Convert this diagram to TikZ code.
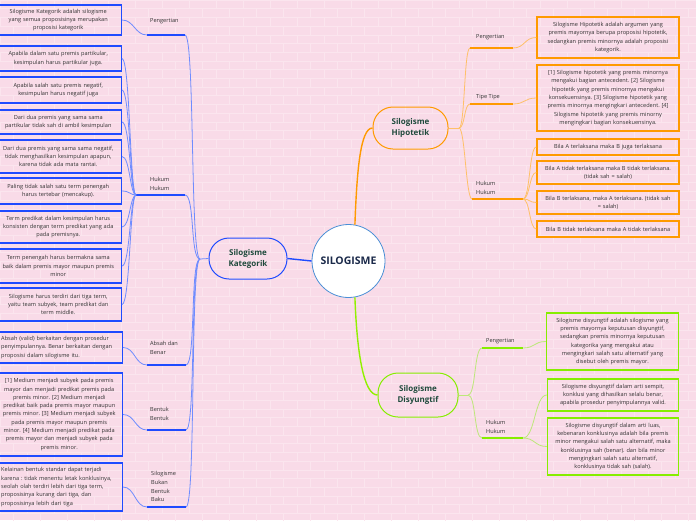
\documentclass[tikz,border=0pt]{standalone}
\usepackage{fontspec}
\setmainfont{Open Sans}
\frenchspacing
\definecolor{bg}{HTML}{F9DBE8}
\definecolor{brick}{HTML}{FBE5EE}
\definecolor{kblue}{HTML}{1F4BFF}
\definecolor{kblueL}{HTML}{6F8CFF}
\definecolor{horange}{HTML}{FF9A00}
\definecolor{horangeL}{HTML}{FFC068}
\definecolor{dgreen}{HTML}{86EE00}
\definecolor{dgreenL}{HTML}{BDE87A}
\definecolor{txt}{HTML}{333333}
\definecolor{ttl}{HTML}{1F4A3C}
\definecolor{navy}{HTML}{1B2A4A}
\definecolor{cblue}{HTML}{4A8FD6}
\begin{document}
\begin{tikzpicture}[x=1pt,y=-1pt,
  txtf/.style={font=\fontsize{5.6}{8.3}\selectfont, text=txt},
  lbox/.style={draw=kblue, line width=1.5pt, txtf, text width=120pt, align=center, inner xsep=3pt, inner ysep=0pt, anchor=east},
  obox/.style={draw=horange, line width=1.5pt, txtf, text width=136pt, align=center, inner xsep=3pt, inner ysep=0pt},
  gbox/.style={draw=dgreen, line width=1.5pt, txtf, text width=126pt, align=center, inner xsep=3pt, inner ysep=0pt},
  lab/.style={font=\fontsize{5.6}{8.8}\selectfont, text=txt, anchor=west, align=left, inner sep=0pt},
  mainnode/.style={rectangle, rounded corners=20pt, line width=1pt, align=center, text=ttl, font=\bfseries\fontsize{8}{11}\selectfont},
  kthin/.style={draw=kblueL, line width=0.8pt},
  kline/.style={draw=kblue, line width=1.6pt},
  othin/.style={draw=horangeL, line width=0.8pt},
  oline/.style={draw=horange, line width=1.6pt},
  gthin/.style={draw=dgreenL, line width=0.8pt},
  gline/.style={draw=dgreen, line width=1.6pt}]
\useasboundingbox (0,0) rectangle (696,520);
\clip (0,0) rectangle (696,520);
\fill[bg] (0,0) rectangle (696,520);
\foreach \i in {0,...,60}{
  \draw[brick, line width=0.6pt] (0,\i*8.7) -- (696,\i*8.7);
}
\foreach \i in {0,2,...,60}{
  \foreach \k in {0,...,26}{
    \draw[brick, line width=0.6pt] (\k*27,\i*8.7) -- (\k*27,\i*8.7+8.7);
    \draw[brick, line width=0.6pt] (\k*27+13.5,\i*8.7+8.7) -- (\k*27+13.5,\i*8.7+17.4);
  }
}

% ---------- main nodes
\node[circle, draw=cblue, line width=0.8pt, fill=white, minimum size=73pt, inner sep=0pt, text=navy, font=\bfseries\fontsize{10.5}{12}\selectfont] (c) at (348.5,261) {SILOGISME};
\node[mainnode, draw=kblue, minimum width=78pt, minimum height=41pt] (kat) at (248,258.5) {Silogisme\\Kategorik};
\node[mainnode, draw=horange, minimum width=75pt, minimum height=42pt] (hip) at (410.5,128) {Silogisme\\Hipotetik};
\node[mainnode, draw=dgreen, minimum width=80pt, minimum height=44pt] (dis) at (418,395) {Silogisme\\Disyungtif};

\draw[draw=kblue, line width=1.4pt] (c.west) -- (kat.east);
\draw[draw=horange, line width=1.4pt] (c.80) .. controls +(2,-55) and +(-12,0) .. (hip.west);
\draw[draw=dgreen!80!lime, line width=1.4pt] (c.-80) .. controls +(2,55) and +(-14,0) .. (dis.west);

% ---------- Kategorik branch
\coordinate (kj) at (200,259);
\coordinate (kpA) at (147,35);  \coordinate (kpB) at (185,35);
\coordinate (khA) at (136,195); \coordinate (khB) at (185,195);
\coordinate (kaA) at (147,365); \coordinate (kaB) at (186,365);
\coordinate (kbA) at (147,430); \coordinate (kbB) at (186,430);
\coordinate (kkA) at (147,507); \coordinate (kkB) at (186,507);

\node[lab] (lkp) at (150,21) {Pengertian};
\node[lab] (lkh) at (150,183.5) {Hukum\\Hukum};
\node[lab] (lka) at (150,347.5) {Absah dan\\Benar};
\node[lab] (lkb) at (150,413.5) {Bentuk\\Bentuk};
\node[lab] (lkk) at (151,486.5) {Silogisme\\Bukan\\Bentuk\\Baku};

\node[lbox, minimum height=30pt] (kP) at (122,20) {Silogisme Kategorik adalah silogisme\\yang semua proposisinya merupakan\\proposisi kategorik};
\node[lbox, minimum height=25pt] (h1) at (122,58.5) {Apabila dalam satu premis partikular,\\kesimpulan harus partikular juga.};
\node[lbox, minimum height=26pt] (h2) at (122,90) {Apabila salah satu premis negatif,\\kesimpulan harus negatif juga};
\node[lbox, minimum height=24pt] (h3) at (122,122) {Dari dua premis yang sama sama\\partikular tidak sah di ambil kesimpulan};
\node[lbox, minimum height=33pt] (h4) at (122,156.5) {Dari dua premis yang sama sama negatif,\\tidak menghasilkan kesimpulan apapun,\\karena tidak ada mata rantai.};
\node[lbox, minimum height=26pt] (h5) at (122,191) {Paling tidak salah satu term penengah\\harus tertebar (mencakup).};
\node[lbox, minimum height=32pt] (h6) at (122,227) {Term predikat dalam kesimpulan harus\\konsisten dengan term predikat yang ada\\pada premisnya.};
\node[lbox, minimum height=34pt] (h7) at (122,266) {Term penengah harus bermakna sama\\baik dalam premis mayor maupun premis\\minor};
\node[lbox, minimum height=33pt] (h8) at (122,304.5) {Silogisme harus terdiri dari tiga term,\\yaitu team subyek, team predikat dan\\term middle.};
\node[lbox, minimum height=31pt, align=left, inner xsep=5pt, text width=116pt] (ka) at (123,347.5) {Absah (valid) berkaitan dengan prosedur\\penyimpulannya. Benar berkaitan dengan\\proposisi dalam silogisme itu.};
\node[lbox, minimum height=83pt] (kb) at (123,414.5) {[1] Medium menjadi subyek pada premis\\mayor dan menjadi predikat premis pada\\premis minor. [2] Medium menjadi\\predikat baik pada premis mayor maupun\\premis minor. [3] Medium menjadi subyek\\pada premis mayor maupun premis\\minor. [4] Medium menjadi predikat pada\\premis mayor dan menjadi subyek pada\\premis minor.};
\node[lbox, minimum height=48pt, align=left, inner xsep=5pt, text width=116pt] (kk) at (123,487) {Kelainan bentuk standar dapat terjadi\\karena : tidak menentu letak konklusinya,\\seolah olah terdiri lebih dari tiga term,\\proposisinya kurang dari tiga, dan\\proposisinya lebih dari tiga};

\draw[kthin] (kat.west) -- (kj);
\foreach \t in {kpB,khB,kaB,kbB,kkB}{
  \draw[kthin] (kj) .. controls +(-10,0) and +(10,0) .. (\t);
}
\draw[kline] (kpA) -- (kpB);
\draw[kline] (khA) -- (khB);
\draw[kline] (kaA) -- (kaB);
\draw[kline] (kbA) -- (kbB);
\draw[kline] (kkA) -- (kkB);
\draw[kthin] (kP.east) .. controls +(12,0) and +(-12,0) .. (kpA);
\foreach \b in {h1,h2,h3,h4,h5,h6,h7,h8}{
  \draw[kthin] (\b.east) .. controls +(8,0) and +(-6,0) .. (khA);
}
\draw[kthin] (ka.east) .. controls +(12,0) and +(-12,0) .. (kaA);
\draw[kthin] (kb.east) .. controls +(12,0) and +(-12,0) .. (kbA);
\draw[kthin] (kk.east) .. controls +(12,0) and +(-12,0) .. (kkA);

% ---------- Hipotetik branch
\coordinate (hj) at (459,128);
\coordinate (hpA) at (470,48);  \coordinate (hpB) at (513,48);
\coordinate (htA) at (470,104); \coordinate (htB) at (513,104);
\coordinate (hhA) at (472,199); \coordinate (hhB) at (523,199);

\node[lab] (lhp) at (476,37) {Pengertian};
\node[lab] (lht) at (476,97) {Tipe Tipe};
\node[lab] (lhh) at (476,187.5) {Hukum\\Hukum};

\node[obox, minimum height=41pt] (Hp) at (608,37.5) {Silogisme Hipotetik adalah argumen yang\\premis mayornya berupa proposisi hipotetik,\\sedangkan premis minornya adalah proposisi\\kategorik.};
\node[obox, minimum height=66pt] (Ht) at (608,98) {[1] Silogisme hipotetik yang premis minornya\\mengakui bagian antecedent. [2] Silogisme\\hipotetik yang premis minornya mengakui\\konsekuensinya. [3] Silogisme hipotetik yang\\premis minornya mengingkari antecedent. [4]\\Silogisme hipotetik yang premis minorny\\mengingkari bagian konsekuensinya.};
\node[obox, minimum height=16pt] (Ha) at (608,147) {Bila A terlaksana maka B juga terlaksana};
\node[obox, minimum height=23pt] (Hb) at (608,172.5) {Bila A tidak terlaksana maka B tidak terlaksana.\\(tidak sah = salah)};
\node[obox, minimum height=23pt] (Hc) at (608,202.5) {Bila B terlaksana, maka A terlaksana. (tidak sah\\= salah)};
\node[obox, minimum height=16pt] (Hd) at (608,229) {Bila B tidak terlaksana maka A tidak terlaksana};

\draw[othin] (hip.east) -- (hj);
\foreach \t in {hpA,htA,hhA}{
  \draw[othin] (hj) .. controls +(6,0) and +(-6,0) .. (\t);
}
\draw[oline] (hpA) -- (hpB);
\draw[oline] (htA) -- (htB);
\draw[oline] (hhA) -- (hhB);
\draw[othin] (hpB) .. controls +(12,0) and +(-12,0) .. (Hp.west);
\draw[othin] (htB) .. controls +(12,0) and +(-12,0) .. (Ht.west);
\foreach \b in {Ha,Hb,Hc,Hd}{
  \draw[othin] (hhB) .. controls +(7,0) and +(-7,0) .. (\b.west);
}

% ---------- Disyungtif branch
\coordinate (dj) at (468,395);
\coordinate (dpA) at (482,348); \coordinate (dpB) at (523,348);
\coordinate (dhA) at (482,438); \coordinate (dhB) at (523,438);

\node[lab] (ldp) at (486,341) {Pengertian};
\node[lab] (ldh) at (486,426.5) {Hukum\\Hukum};

\node[gbox, minimum height=57pt] (Dp) at (612.5,341.5) {Silogisme disyungtif adalah silogisme yang\\premis mayornya keputusan disyungtif,\\sedangkan premis minornya keputusan\\kategorika yang mengakui atau\\mengingkari salah satu alternatif yang\\disebut oleh premis mayor.};
\node[gbox, minimum height=32pt, text width=125pt] (D1) at (613,395) {Silogisme disyungtif dalam arti sempit,\\konklusi yang dihasilkan selalu benar,\\apabila prosedur penyimpulannya valid.};
\node[gbox, minimum height=57pt, text width=125pt] (D2) at (613,446.5) {Silogisme disyungtif dalam arti luas,\\kebenaran konklusinya adalah bila premis\\minor mengakui salah satu alternatif, maka\\konklusinya sah (benar). dan bila minor\\mengingkari salah satu alternatif,\\konklusinya tidak sah (salah).};

\draw[gthin] (dis.east) -- (dj);
\foreach \t in {dpA,dhA}{
  \draw[gthin] (dj) .. controls +(8,0) and +(-8,0) .. (\t);
}
\draw[gline] (dpA) -- (dpB);
\draw[gline] (dhA) -- (dhB);
\draw[gthin] (dpB) .. controls +(12,0) and +(-12,0) .. (Dp.west);
\draw[gthin] (dhB) .. controls +(12,0) and +(-12,0) .. (D1.west);
\draw[gthin] (dhB) .. controls +(12,0) and +(-12,0) .. (D2.west);
\end{tikzpicture}
\end{document}
